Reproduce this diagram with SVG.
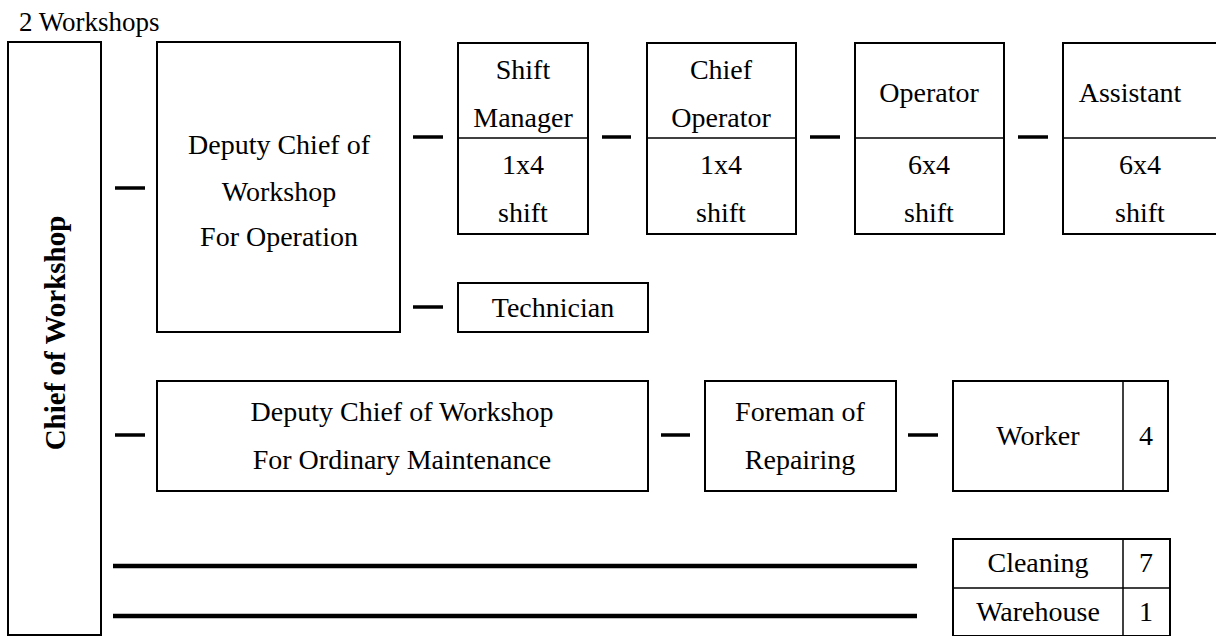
<svg xmlns="http://www.w3.org/2000/svg" width="1216" height="636" viewBox="0 0 1216 636">
  <style>
    .box { fill: #fff; stroke: #000; stroke-width: 2; }
    .div { stroke: #000; stroke-width: 1.5; fill: none; }
    .dash { stroke: #000; stroke-width: 3.5; fill: none; }
    .bar { stroke: #000; stroke-width: 4.5; fill: none; }
    text { font-family: Tinos, "Liberation Serif", "Noto Serif", "DejaVu Serif", Times, "Times New Roman", serif; font-size: 28px; fill: #000; text-anchor: middle; }
    .title { text-anchor: start; font-size: 27px; }
    .chief { font-weight: bold; font-size: 29px; }
  </style>
  <rect width="1216" height="636" fill="#fff"/>

  <text class="title" x="19" y="31">2 Workshops</text>

  <g id="chief-of-workshop">
    <rect class="box" x="8" y="42" width="93" height="593"/>
    <text class="chief" transform="translate(65 333) rotate(-90)">Chief of Workshop</text>
  </g>

  <g id="deputy-operation">
    <rect class="box" x="157" y="42" width="243" height="290"/>
    <text x="279" y="154">Deputy Chief of</text>
    <text x="279" y="201">Workshop</text>
    <text x="279" y="246">For Operation</text>
  </g>

  <g id="shift-manager">
    <rect class="box" x="458" y="43" width="130" height="191"/>
    <line class="div" x1="458" y1="138" x2="588" y2="138"/>
    <text x="523" y="79">Shift</text>
    <text x="523" y="127">Manager</text>
    <text x="523" y="174">1x4</text>
    <text x="523" y="222">shift</text>
  </g>

  <g id="chief-operator">
    <rect class="box" x="647" y="43" width="149" height="191"/>
    <line class="div" x1="647" y1="138" x2="796" y2="138"/>
    <text x="721" y="79">Chief</text>
    <text x="721" y="127">Operator</text>
    <text x="721" y="174">1x4</text>
    <text x="721" y="222">shift</text>
  </g>

  <g id="operator">
    <rect class="box" x="855" y="43" width="149" height="191"/>
    <line class="div" x1="855" y1="138" x2="1004" y2="138"/>
    <text x="929" y="102">Operator</text>
    <text x="929" y="174">6x4</text>
    <text x="929" y="222">shift</text>
  </g>

  <g id="assistant">
    <rect class="box" x="1063" y="43" width="170" height="191"/>
    <line class="div" x1="1063" y1="138" x2="1216" y2="138"/>
    <text x="1130" y="102">Assistant</text>
    <text x="1140" y="174">6x4</text>
    <text x="1140" y="222">shift</text>
  </g>

  <g id="technician">
    <rect class="box" x="458" y="283" width="190" height="49"/>
    <text x="553" y="317">Technician</text>
  </g>

  <g id="deputy-maintenance">
    <rect class="box" x="157" y="381" width="491" height="110"/>
    <text x="402" y="421">Deputy Chief of Workshop</text>
    <text x="402" y="469">For Ordinary Maintenance</text>
  </g>

  <g id="foreman">
    <rect class="box" x="705" y="381" width="191" height="110"/>
    <text x="800" y="421">Foreman of</text>
    <text x="800" y="469">Repairing</text>
  </g>

  <g id="worker">
    <rect class="box" x="953" y="381" width="215" height="110"/>
    <line class="div" x1="1123" y1="381" x2="1123" y2="491"/>
    <text x="1038" y="445">Worker</text>
    <text x="1146" y="445">4</text>
  </g>

  <g id="cleaning-warehouse">
    <rect class="box" x="953" y="539" width="217" height="97"/>
    <line class="div" x1="953" y1="588" x2="1170" y2="588"/>
    <line class="div" x1="1123" y1="539" x2="1123" y2="636"/>
    <text x="1038" y="572">Cleaning</text>
    <text x="1146" y="572">7</text>
    <text x="1038" y="621">Warehouse</text>
    <text x="1146" y="621">1</text>
  </g>

  <g id="connectors">
    <line class="dash" x1="115" y1="188" x2="145" y2="188"/>
    <line class="dash" x1="413" y1="137" x2="443" y2="137"/>
    <line class="dash" x1="602" y1="137" x2="631" y2="137"/>
    <line class="dash" x1="810" y1="137" x2="840" y2="137"/>
    <line class="dash" x1="1018" y1="137" x2="1048" y2="137"/>
    <line class="dash" x1="413" y1="307" x2="443" y2="307"/>
    <line class="dash" x1="115" y1="435" x2="145" y2="435"/>
    <line class="dash" x1="661" y1="435" x2="690" y2="435"/>
    <line class="dash" x1="908" y1="435" x2="938" y2="435"/>
    <line class="bar" x1="113" y1="566" x2="917" y2="566"/>
    <line class="bar" x1="113" y1="616" x2="917" y2="616"/>
  </g>
</svg>
